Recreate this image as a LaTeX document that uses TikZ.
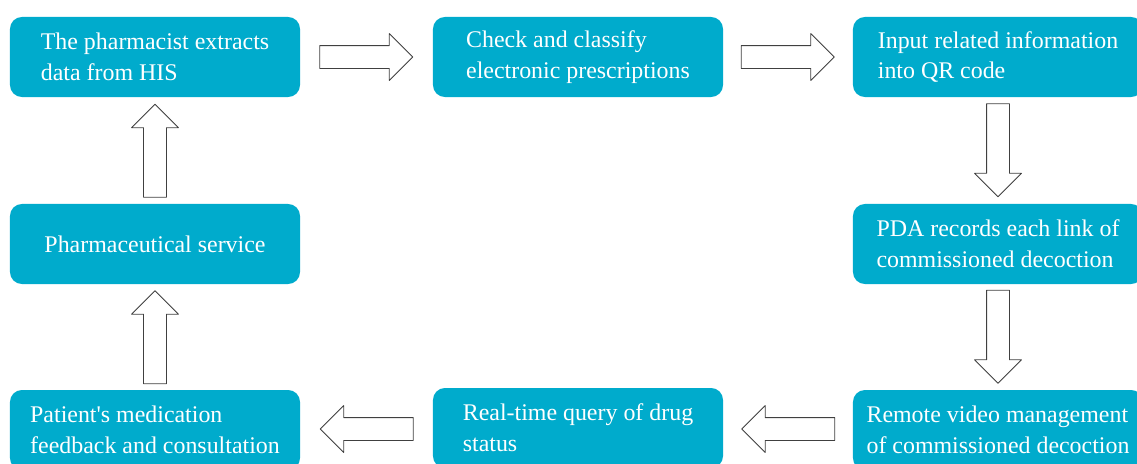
\documentclass[tikz,border=0pt]{standalone}
\usepackage{fontspec}
\setmainfont{Liberation Serif}
\usepackage{tikz}
\usetikzlibrary{shapes.arrows,calc}

\definecolor{boxblue}{RGB}{0,171,204}
\definecolor{arrowgray}{RGB}{64,64,64}

\tikzset{
  stepbox/.style={fill=boxblue, rounded corners=0.3cm, minimum width=7.25cm,
    minimum height=2cm, text=white, align=left, inner sep=0pt,
    font=\fontsize{17}{22}\selectfont},
  flowarrow/.style={single arrow, draw=arrowgray, fill=white, line width=0.6pt,
    minimum height=2.325cm, single arrow head extend=0.3cm,
    single arrow head indent=0cm, inner xsep=0pt, inner ysep=0.275cm}
}

\begin{document}
\begin{tikzpicture}[line cap=round,line join=round,x=0.025cm,y=-0.025cm]
        \useasboundingbox (0,0) rectangle (1137,463);
        \clip (0,0) rectangle (1137,463);
        % top row
        \node[stepbox] (extract) at (155,57) {The pharmacist extracts\\data from HIS};
        \node[stepbox] (check) at (578,57) {Check and classify\\electronic prescriptions};
        \node[stepbox] (qrcode) at (998,57) {Input related information\\into QR code};
        % middle row
        \node[stepbox] (service) at (155,244) {Pharmaceutical service};
        \node[stepbox] (pda) at (998,244) {PDA records each link of\\commissioned decoction};
        % bottom row
        \node[stepbox] (feedback) at (155,430) {Patient\textquotesingle s medication\\feedback and consultation};
        \node[stepbox] (query) at (578,428) {Real-time query of drug\\status};
        \node[stepbox] (video) at (998,430) {Remote video management\\of commissioned decoction};
        % block arrows (shifted back so the whole arrow sits mid-gap)
        \node[flowarrow] (a1) at ($(extract.east)!0.5!(check.west)+(-6,0)$) {};
        \node[flowarrow] (a2) at ($(check.east)!0.5!(qrcode.west)+(-6,0)$) {};
        \node[flowarrow,rotate=-90] (a3) at ($(qrcode.south)!0.5!(pda.north)+(0,-6)$) {};
        \node[flowarrow,rotate=-90] (a4) at ($(pda.south)!0.5!(video.north)+(0,-6)$) {};
        \node[flowarrow,rotate=180] (a5) at ($(video.west)!0.5!(query.east)+(6,0)$) {};
        \node[flowarrow,rotate=180] (a6) at ($(query.west)!0.5!(feedback.east)+(6,0)$) {};
        \node[flowarrow,rotate=90] (a7) at ($(feedback.north)!0.5!(service.south)+(0,6)$) {};
        \node[flowarrow,rotate=90] (a8) at ($(service.north)!0.5!(extract.south)+(0,6)$) {};
\end{tikzpicture}
\end{document}
